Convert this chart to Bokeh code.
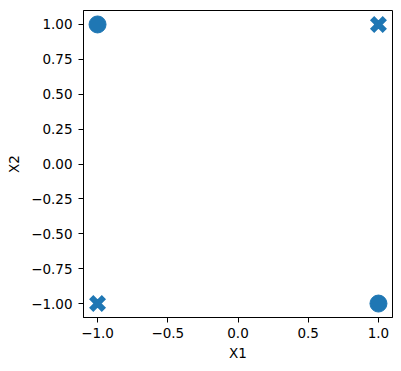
from bokeh.plotting import figure
from bokeh.models import FixedTicker, Range1d
from bokeh.embed import file_html
from bokeh.resources import INLINE

circle_x = [-1, 1]
circle_y = [1, -1]
cross_x = [1, -1]
cross_y = [1, -1]

x_ticks = [-1.0, -0.5, 0.0, 0.5, 1.0]
y_ticks = [-1.0, -0.75, -0.5, -0.25, 0.0, 0.25, 0.5, 0.75, 1.0]

def lab(v, fmt):
    s = fmt.format(v)
    return s.replace("-", "\u2212")

color = "#1f77b4"

p = figure(width=398, height=363, output_backend="svg", toolbar_location=None,
           x_range=Range1d(-1.1, 1.1), y_range=Range1d(-1.1, 1.1),
           min_border_left=83, min_border_right=6, min_border_top=10, min_border_bottom=45)
p.background_fill_color = "white"
p.border_fill_color = "white"
p.grid.visible = False
p.outline_line_color = "black"
p.outline_line_width = 1
p.outline_line_alpha = 1

p.scatter(circle_x, circle_y, marker="circle", size=17, fill_color=color, line_color=color)
p.scatter(cross_x, cross_y, marker="x", size=18, line_color=color, line_width=6)

p.xaxis.ticker = FixedTicker(ticks=x_ticks)
p.yaxis.ticker = FixedTicker(ticks=y_ticks)
p.xaxis.major_label_overrides = {t: lab(t, "{:.1f}") for t in x_ticks}
p.yaxis.major_label_overrides = {t: lab(t, "{:.2f}") for t in y_ticks}

for ax in (p.xaxis, p.yaxis):
    ax.axis_line_color = "black"
    ax.major_tick_line_color = "black"
    ax.major_tick_in = 0
    ax.major_tick_out = 5
    ax.minor_tick_line_color = None
    ax.major_label_text_font = "DejaVu Sans"
    ax.major_label_text_font_size = "13.5px"
    ax.major_label_text_color = "black"
    ax.axis_label_text_font = "DejaVu Sans"
    ax.axis_label_text_font_size = "13.5px"
    ax.axis_label_text_font_style = "normal"
    ax.axis_label_text_color = "black"

p.xaxis.axis_label = "X1"
p.yaxis.axis_label = "X2"
p.xaxis.major_label_standoff = 5
p.yaxis.major_label_standoff = 6
p.xaxis.axis_label_standoff = 4
p.yaxis.axis_label_standoff = 6

open("out.html", "w").write(file_html(p, INLINE))
